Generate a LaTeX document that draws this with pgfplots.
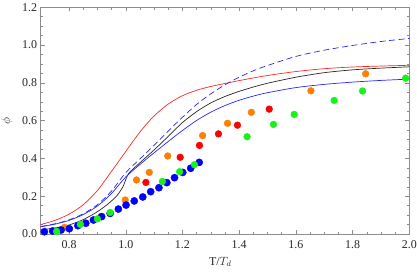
\documentclass[border=0pt]{standalone}
\usepackage{pgfplots}
\pgfplotsset{compat=1.18}
\usepackage{fontspec}
\setmainfont{Liberation Serif}
\definecolor{dotorange}{rgb}{1,0.5,0}
\definecolor{dotgreen}{rgb}{0.1,0.95,0.1}
\definecolor{linered}{rgb}{1,0.15,0.15}
\definecolor{lineblue}{rgb}{0.15,0.15,1}
\begin{document}
\begin{tikzpicture}
\begin{axis}[
  scale only axis, width=368.6bp, height=226.7bp,
  xmin=0.7, xmax=2.0, ymin=0, ymax=1.2,
  xtick={0.8,1.0,1.2,1.4,1.6,1.8,2.0},
  ytick={0,0.2,0.4,0.6,0.8,1.0,1.2},
  minor x tick num=3, minor y tick num=3,
  tick align=inside, major tick length=4bp, minor tick length=2.5bp,
  axis line style={black!45, line width=0.5bp},
  every tick/.style={black!45, line width=0.5bp},
  tick label style={font=\fontsize{12}{14}\selectfont, text=black!85},
  /pgf/number format/assume math mode=true,
  /pgf/number format/fixed, /pgf/number format/fixed zerofill,
  /pgf/number format/precision=1,
  xticklabel style={yshift=-3bp},
  xlabel={T/$T_d$}, ylabel={$\phi$},
  every axis x label/.style={at={(axis description cs:0.487,-0.1235)}, anchor=center, font=\fontsize{12}{14}\selectfont, text=black!85},
  every axis y label/.style={at={(axis description cs:-0.092,0.5)}, anchor=center, rotate=90, font=\fontsize{12}{14}\selectfont, text=black!85},
  every axis plot/.append style={line join=round},
]
% red curve
\addplot[linered, line width=0.7bp, smooth, tension=0.5] coordinates {
(0.70,0.050)(0.75,0.072)(0.80,0.105)(0.85,0.155)(0.90,0.230)(0.95,0.332)
(1.00,0.437)(1.05,0.540)(1.10,0.625)(1.15,0.688)(1.20,0.732)(1.25,0.761)
(1.30,0.781)(1.35,0.797)(1.40,0.812)(1.45,0.826)(1.50,0.839)(1.60,0.860)
(1.70,0.875)(1.80,0.884)(1.90,0.889)(2.00,0.893)};
% black curve
\addplot[black!85, line width=0.7bp, smooth, tension=0.4] coordinates {
(0.70,0.022)(0.75,0.032)(0.80,0.048)(0.85,0.076)(0.90,0.118)(0.94,0.162)
(0.97,0.205)(0.99,0.250)(1.00,0.288)(1.01,0.320)(1.03,0.350)(1.05,0.377)
(1.10,0.445)(1.15,0.517)(1.20,0.590)(1.25,0.648)(1.30,0.694)(1.35,0.728)
(1.40,0.755)(1.45,0.778)(1.50,0.798)(1.60,0.830)(1.70,0.854)(1.80,0.869)
(1.90,0.878)(2.00,0.885)};
% blue solid
\addplot[lineblue, line width=0.7bp, smooth, tension=0.5] coordinates {
(0.70,0.038)(0.75,0.052)(0.80,0.072)(0.85,0.103)(0.90,0.148)(0.95,0.215)
(1.00,0.302)(1.05,0.368)(1.10,0.430)(1.15,0.490)(1.20,0.548)(1.25,0.601)
(1.30,0.645)(1.35,0.680)(1.40,0.708)(1.45,0.730)(1.50,0.748)(1.60,0.775)
(1.70,0.792)(1.80,0.804)(1.90,0.813)(2.00,0.820)};
% blue dashed
\addplot[lineblue, line width=0.7bp, smooth, tension=0.5, dash pattern=on 6bp off 3.5bp] coordinates {
(0.70,0.040)(0.75,0.054)(0.80,0.075)(0.85,0.107)(0.90,0.155)(0.95,0.228)
(1.00,0.325)(1.05,0.397)(1.10,0.470)(1.15,0.545)(1.20,0.618)(1.25,0.686)
(1.30,0.742)(1.35,0.790)(1.40,0.830)(1.45,0.864)(1.50,0.892)(1.60,0.940)
(1.70,0.973)(1.80,0.998)(1.90,1.019)(2.00,1.035)};
% orange dots
\addplot[only marks, mark=*, mark size=3.4bp, color=dotorange] coordinates {
(0.784,0.035)(0.913,0.093)(0.998,0.180)(1.038,0.286)(1.083,0.326)
(1.148,0.413)(1.271,0.521)(1.359,0.586)(1.443,0.644)(1.653,0.758)(1.846,0.848)};
% red dots
\addplot[only marks, mark=*, mark size=3.4bp, color=red] coordinates {
(1.071,0.273)(1.192,0.406)(1.260,0.469)(1.327,0.530)(1.394,0.576)(1.506,0.661)};
% blue dots
\addplot[only marks, mark=*, mark size=3.6bp, color=blue] coordinates {
(0.713,0.012)(0.742,0.016)(0.772,0.021)(0.801,0.028)(0.831,0.044)
(0.859,0.057)(0.886,0.074)(0.915,0.092)(0.945,0.109)(0.974,0.132)
(1.001,0.153)(1.030,0.175)(1.060,0.196)(1.088,0.224)(1.117,0.245)
(1.145,0.272)(1.172,0.298)(1.201,0.326)(1.229,0.348)(1.259,0.379)};
% green dots
\addplot[only marks, mark=*, mark size=3.4bp, color=dotgreen] coordinates {
(0.756,0.014)(0.840,0.051)(0.900,0.080)(0.945,0.114)(1.129,0.278)
(1.190,0.330)(1.242,0.367)(1.428,0.515)(1.521,0.580)(1.594,0.633)
(1.735,0.707)(1.835,0.757)(1.987,0.825)};
\end{axis}
\pgfresetboundingbox
\path[use as bounding box] ([xshift=-40.7bp,yshift=-41bp]current axis.south west) rectangle ([xshift=7.7bp,yshift=7.3bp]current axis.north east);
\end{tikzpicture}
\end{document}
